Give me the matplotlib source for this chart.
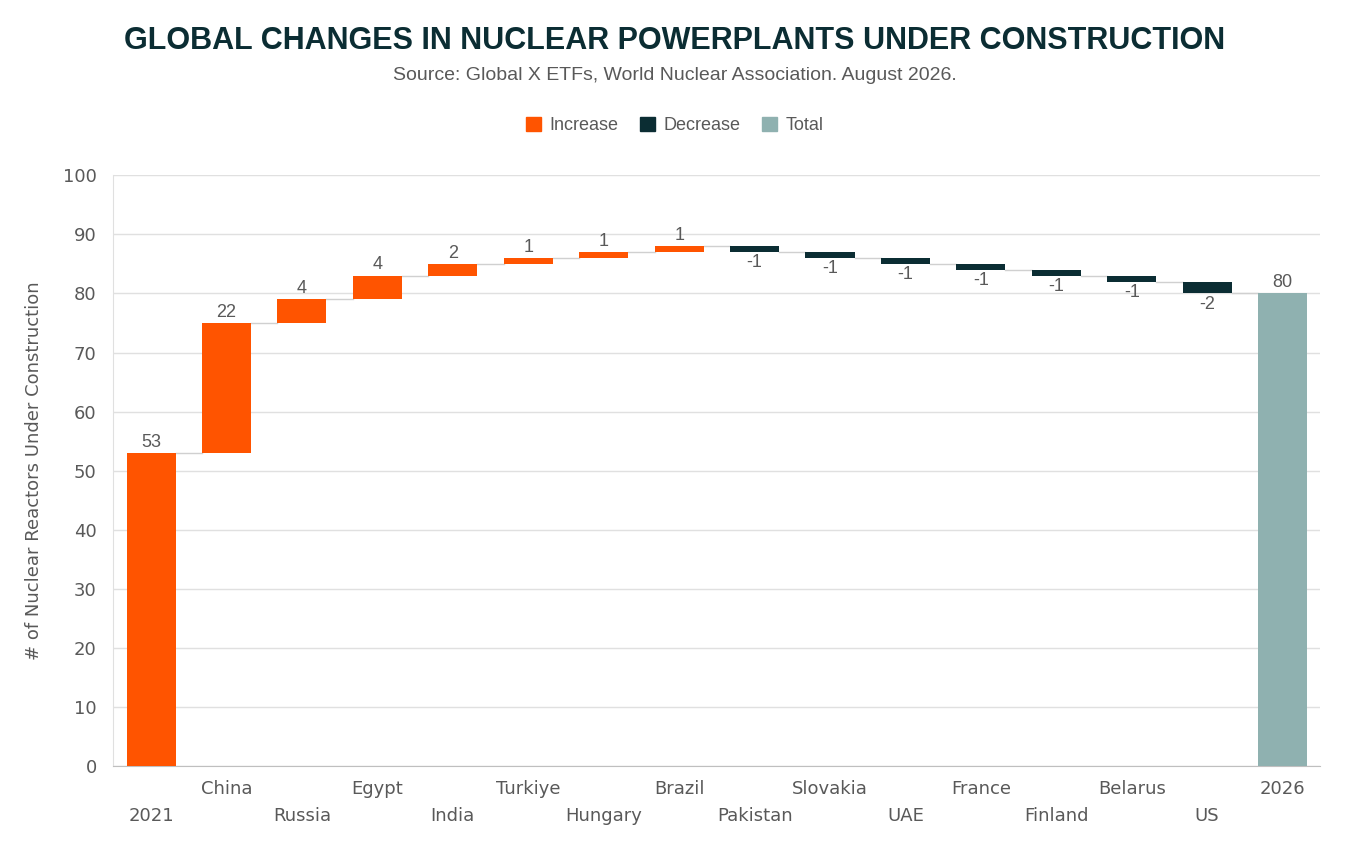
import matplotlib
matplotlib.use("Agg")
import matplotlib.pyplot as plt
from matplotlib.patches import Patch

categories = ["2021","China","Russia","Egypt","India","Turkiye","Hungary","Brazil",
              "Pakistan","Slovakia","UAE","France","Finland","Belarus","US","2026"]
changes = [53,22,4,4,2,1,1,1,-1,-1,-1,-1,-1,-1,-2,80]

C_INC = "#FF5400"; C_DEC = "#0B2D33"; C_TOT = "#8FB1B0"
fig = plt.figure(figsize=(13.5, 8.59), dpi=100)
ax = fig.add_axes([0.084, 0.108, 0.894, 0.688])
plt.rcParams['font.family'] = ['Liberation Sans', 'DejaVu Sans']

n = len(categories)
level = 0
tops = []
for i, v in enumerate(changes):
    if i == 0 or i == n - 1:
        bottom, h, c = 0, v, (C_INC if i == 0 else C_TOT)
        level = v
    else:
        bottom = level if v > 0 else level + v
        h = abs(v)
        c = C_INC if v > 0 else C_DEC
        level += v
    ax.bar(i, h, bottom=bottom, width=0.65, color=c, zorder=3)
    tops.append(level)
    if v > 0:
        ax.text(i, bottom + h + 0.4, str(v), ha="center", va="bottom", fontsize=13, color="#595959", family=['Liberation Sans'])
    else:
        ax.text(i, bottom - 0.4, str(v), ha="center", va="top", fontsize=13, color="#595959", family=['Liberation Sans'])
for i in range(n - 1):
    ax.plot([i + 0.325, i + 1 - 0.325], [tops[i], tops[i]], color="#D0D0D0", lw=1, zorder=2)

ax.set_xlim(-0.5, n - 0.5)
ax.set_ylim(0, 100)
ax.set_yticks(range(0, 101, 10))
ax.tick_params(axis="y", labelsize=13, labelcolor="#595959", length=0, pad=12)
ax.set_xticks(range(n))
ax.set_xticklabels(["\n" + c if i % 2 == 0 else c for i, c in enumerate(categories)],
                   fontsize=13, color="#595959", linespacing=1.6)
ax.tick_params(axis="x", length=0, pad=10)
ax.grid(axis="y", color="#E0E0E0", lw=1, zorder=0)
for s in ["top", "right"]:
    ax.spines[s].set_visible(False)
ax.spines["left"].set_color("#E0E0E0")
ax.spines["bottom"].set_color("#BFBFBF")
ax.set_ylabel("# of Nuclear Reactors Under Construction", fontsize=13, color="#595959", labelpad=14)

fig.text(0.5, 0.952, "GLOBAL CHANGES IN NUCLEAR POWERPLANTS UNDER CONSTRUCTION",
         ha="center", va="center", fontsize=22, fontweight="bold", color="#0B2D33")
fig.text(0.5, 0.912, "Source: Global X ETFs, World Nuclear Association. August 2026.",
         ha="center", va="center", fontsize=14, color="#595959")
handles = [Patch(color=C_INC, label="Increase"), Patch(color=C_DEC, label="Decrease"), Patch(color=C_TOT, label="Total")]
fig.legend(handles=handles, loc="center", bbox_to_anchor=(0.5, 0.854), ncol=3, frameon=False,
           fontsize=13, labelcolor="#595959", handlelength=0.8, handleheight=0.8, columnspacing=1.2, handletextpad=0.5)
fig.savefig("out.png", dpi=100, facecolor="white")
